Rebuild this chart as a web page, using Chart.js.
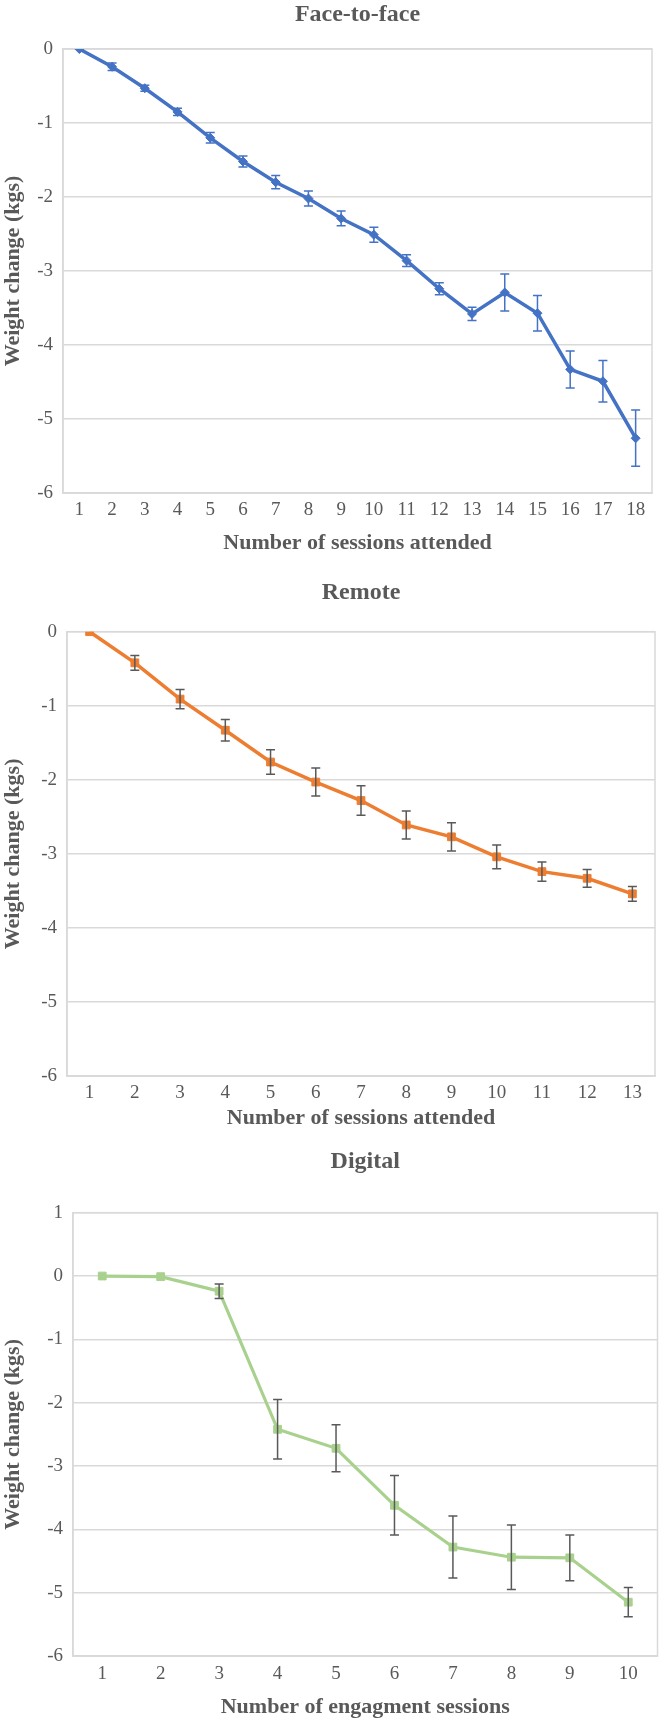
<!DOCTYPE html>
<html>
<head>
<meta charset="utf-8">
<script src="https://cdn.jsdelivr.net/npm/chart.js@4.4.1/dist/chart.umd.min.js"></script>
<style>
  html, body { margin: 0; padding: 0; background: #fff; }
  body { width: 664px; height: 1719px; position: relative; overflow: hidden; }
  .box { position: absolute; left: 0; width: 664px; }
</style>
</head>
<body>
<div class="box" style="top:0"><canvas id="f2f" width="664" height="560"></canvas></div>
<div class="box" style="top:560px"><canvas id="remote" width="664" height="572"></canvas></div>
<div class="box" style="top:1132px"><canvas id="digital" width="664" height="590"></canvas></div>
<script>
// Face-to-face
const f2fSessions = ["1","2","3","4","5","6","7","8","9","10","11","12","13","14","15","16","17","18"];
const f2fMean = [0, -0.24, -0.53, -0.85, -1.2, -1.52, -1.8, -2.02, -2.29, -2.51, -2.86, -3.24, -3.58, -3.29, -3.57, -4.33, -4.49, -5.26];
const f2fErr = [0, 0.05, 0.04, 0.05, 0.07, 0.075, 0.09, 0.1, 0.1, 0.1, 0.08, 0.08, 0.09, 0.25, 0.24, 0.25, 0.28, 0.38];

// Remote
const remoteSessions = ["1","2","3","4","5","6","7","8","9","10","11","12","13"];
const remoteMean = [0, -0.42, -0.91, -1.33, -1.76, -2.03, -2.28, -2.61, -2.77, -3.04, -3.24, -3.33, -3.54];
const remoteErr = [0, 0.1, 0.13, 0.145, 0.165, 0.19, 0.2, 0.19, 0.19, 0.16, 0.13, 0.12, 0.1];

// Digital
const digitalSessions = ["1","2","3","4","5","6","7","8","9","10"];
const digitalMean = [0, -0.01, -0.24, -2.42, -2.72, -3.62, -4.28, -4.44, -4.45, -5.15];
const digitalErr = [0, 0, 0.115, 0.47, 0.37, 0.47, 0.49, 0.51, 0.36, 0.23];

const FONT = "'Liberation Serif', 'Times New Roman', serif";
const TEXT = "#595959";
const GRID = "#d9d9d9";

const errorBars = {
  id: "errorBars",
  afterDatasetsDraw(chart, args, opts) {
    const { ctx } = chart;
    const y = chart.scales.y;
    const ds = chart.data.datasets[0];
    const meta = chart.getDatasetMeta(0);
    ctx.save();
    ctx.strokeStyle = opts.color;
    ctx.lineWidth = opts.width;
    meta.data.forEach((pt, i) => {
      const e = ds.errors[i];
      if (!e) return;
      const v = ds.data[i];
      const top = y.getPixelForValue(v + e);
      const bot = y.getPixelForValue(v - e);
      const cap = opts.cap;
      ctx.beginPath();
      ctx.moveTo(pt.x, top);
      ctx.lineTo(pt.x, bot);
      ctx.moveTo(pt.x - cap, top);
      ctx.lineTo(pt.x + cap, top);
      ctx.moveTo(pt.x - cap, bot);
      ctx.lineTo(pt.x + cap, bot);
      ctx.stroke();
    });
    ctx.restore();
  }
};

const plotBorder = {
  id: "plotBorder",
  beforeDatasetsDraw(chart) {
    const { ctx, chartArea: a } = chart;
    ctx.save();
    ctx.strokeStyle = GRID;
    ctx.lineWidth = 1.5;
    ctx.strokeRect(a.left, a.top, a.right - a.left, a.bottom - a.top);
    ctx.restore();
  }
};

function makeChart(id, s) {
  return new Chart(document.getElementById(id), {
    type: "line",
    data: {
      labels: s.labels,
      datasets: [{
        data: s.data,
        errors: s.errors,
        borderColor: s.color,
        backgroundColor: s.color,
        borderWidth: s.lineWidth,
        pointStyle: s.pointStyle,
        pointRadius: s.pointRadius,
        pointBorderWidth: 1,
        tension: 0
      }]
    },
    options: {
      responsive: false,
      animation: false,
      layout: { padding: { left: 0, right: s.padRight, top: 0, bottom: 0 } },
      plugins: {
        legend: { display: false },
        tooltip: { enabled: false },
        title: {
          display: true,
          text: s.title,
          color: TEXT,
          fullSize: false,
          font: { family: FONT, size: 24, weight: "bold", lineHeight: 1.2 },
          padding: s.titlePad
        },
        errorBars: { color: s.errColor, width: 1.5, cap: 4.5 }
      },
      scales: {
        x: {
          offset: true,
          grid: { display: false, drawTicks: false },
          border: { display: true, color: GRID, width: 1.5 },
          ticks: { color: TEXT, padding: s.xTickPad, font: { family: FONT, size: 19 } },
          title: {
            display: true,
            text: s.xTitle,
            color: TEXT,
            font: { family: FONT, size: 22, weight: "bold", lineHeight: 1.2 },
            padding: { top: 0, bottom: s.xTitlePad }
          },
          afterFit(scale) { scale.height = s.xHeight; }
        },
        y: {
          min: s.yMin,
          max: s.yMax,
          grid: { color: GRID, lineWidth: 1.5, drawTicks: false },
          border: { display: true, color: GRID, width: 1.5 },
          ticks: { stepSize: 1, color: TEXT, padding: 10, font: { family: FONT, size: 19 } },
          title: {
            display: true,
            text: "Weight change (kgs)",
            color: TEXT,
            font: { family: FONT, size: 22, weight: "bold", lineHeight: 1.2 },
            padding: 0
          },
          afterFit(scale) { scale.width = s.yWidth; }
        }
      }
    },
    plugins: [plotBorder, errorBars]
  });
}

makeChart("f2f", {
  labels: f2fSessions, data: f2fMean, errors: f2fErr,
  color: "#4472C4", errColor: "#4472C4", lineWidth: 3.5,
  pointStyle: "rectRot", pointRadius: 4.5,
  title: "Face-to-face", titlePad: { top: 0.6, bottom: 19.6 },
  xTitle: "Number of sessions attended", xTickPad: 5.6, xTitlePad: 3.8, xHeight: 67,
  yMin: -6, yMax: 0, yWidth: 63, padRight: 12
});

makeChart("remote", {
  labels: remoteSessions, data: remoteMean, errors: remoteErr,
  color: "#ED7D31", errColor: "#595959", lineWidth: 3.5,
  pointStyle: "rect", pointRadius: 5.5,
  title: "Remote", titlePad: { top: 18.6, bottom: 24.3 },
  xTitle: "Number of sessions attended", xTickPad: 5.6, xTitlePad: 0.8, xHeight: 56,
  yMin: -6, yMax: 0, yWidth: 67, padRight: 9
});

makeChart("digital", {
  labels: digitalSessions, data: digitalMean, errors: digitalErr,
  color: "#A9D18E", errColor: "#595959", lineWidth: 3.2,
  pointStyle: "rect", pointRadius: 5.5,
  title: "Digital", titlePad: { top: 15.6, bottom: 36.3 },
  xTitle: "Number of engagment sessions", xTickPad: 6.6, xTitlePad: 1.8, xHeight: 66,
  yMin: -6, yMax: 1, yWidth: 73, padRight: 3
});
</script>
</body>
</html>
